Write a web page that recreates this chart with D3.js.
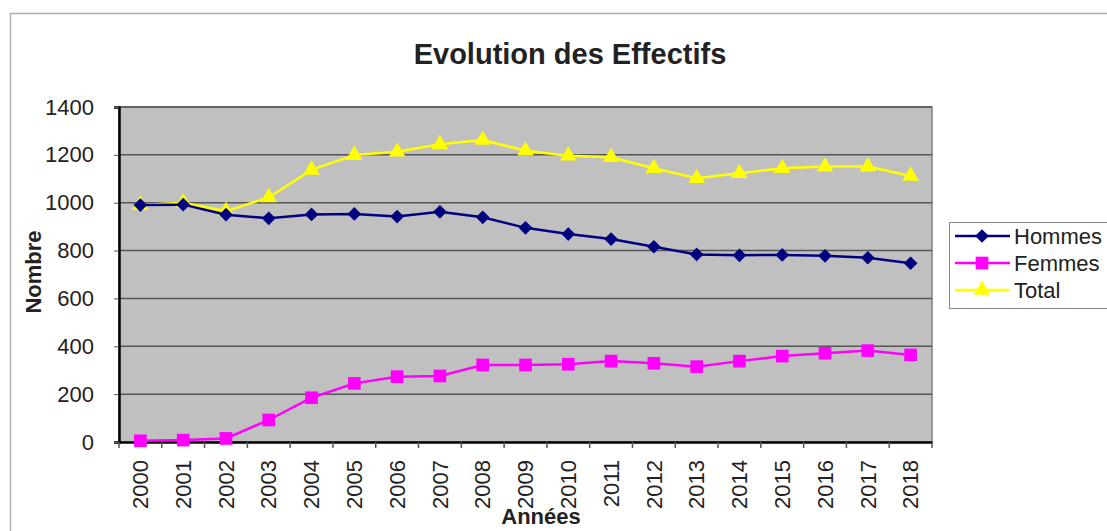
<!DOCTYPE html>
<html>
<head>
<meta charset="utf-8">
<script src="https://cdn.jsdelivr.net/npm/d3@7"></script>
<style>
  body { margin: 0; background: #fff; }
  svg { font-family: "Liberation Sans", Arial, sans-serif; }
</style>
</head>
<body>
<div id="chart"></div>
<script>
"use strict";
// years on the x axis
var years = ["2000", "2001", "2002", "2003", "2004", "2005", "2006", "2007", "2008", "2009",
  "2010", "2011", "2012", "2013", "2014", "2015", "2016", "2017", "2018"];

// values
var hommes = [990, 992, 950, 935, 951, 953, 942, 962, 939, 895, 869, 848, 816, 784, 780, 782, 778, 770, 747];
var femmes = [5, 8, 15, 92, 185, 245, 273, 276, 322, 322, 325, 338, 329, 315, 338, 359, 371, 382, 364];
var total = [990, 1000, 965, 1022, 1137, 1199, 1213, 1244, 1262, 1217, 1196, 1190, 1144, 1102, 1123, 1144, 1151, 1151, 1112];

var yTicks = [0, 200, 400, 600, 800, 1000, 1200, 1400];

var series = [
  { name: "Hommes", values: hommes, color: "#000080", marker: "diamond" },
  { name: "Femmes", values: femmes, color: "#ff00ff", marker: "square" },
  { name: "Total", values: total, color: "#ffff00", marker: "triangle" }
];

var w = 1107, h = 531;
var plot = { left: 119, top: 107, right: 932, bottom: 442 };
var textColor = "#222";

var svg = d3.select("#chart").append("svg")
  .attr("width", w)
  .attr("height", h);

// outer chart frame
svg.append("rect")
  .attr("x", 10.5).attr("y", 13.5)
  .attr("width", 1110).attr("height", 540)
  .attr("fill", "none")
  .attr("stroke", "#b0b0b0")
  .attr("stroke-width", 1.5);

var x = d3.scaleBand().domain(years).range([plot.left, plot.right]);
var y = d3.scaleLinear().domain([0, 1400]).range([plot.bottom, plot.top]);

// plot background
svg.append("rect")
  .attr("x", plot.left).attr("y", plot.top)
  .attr("width", plot.right - plot.left)
  .attr("height", plot.bottom - plot.top)
  .attr("fill", "#c0c0c0")
  .attr("stroke", "#808080")
  .attr("stroke-width", 1.5);

// gridlines
svg.append("g").selectAll("line")
  .data(yTicks.slice(1))
  .join("line")
  .attr("x1", plot.left).attr("x2", plot.right)
  .attr("y1", function(d) { return y(d); })
  .attr("y2", function(d) { return y(d); })
  .attr("stroke", "#555")
  .attr("stroke-width", 1.5);

// y axis
var yAxis = svg.append("g")
  .attr("transform", "translate(" + plot.left + ",0)")
  .call(d3.axisLeft(y).tickValues(yTicks).tickFormat(d3.format("d")).tickSize(5).tickPadding(20));
yAxis.select(".domain").attr("stroke", "#000").attr("stroke-width", 2.5);
yAxis.selectAll(".tick line").attr("stroke", "#555");
yAxis.selectAll("text")
  .attr("font-size", 22)
  .attr("fill", textColor)
  .attr("font-family", "Liberation Sans, Arial, sans-serif");

// x axis: ticks at the band edges
var xAxis = svg.append("g")
  .attr("transform", "translate(0," + plot.bottom + ")")
  .call(d3.axisBottom(x).tickSize(0).tickPadding(0));
xAxis.select(".domain").attr("stroke", "#000").attr("stroke-width", 2.5);
xAxis.selectAll("text")
  .attr("font-size", 22)
  .attr("fill", textColor)
  .attr("font-family", "Liberation Sans, Arial, sans-serif")
  .attr("text-anchor", "end")
  .attr("transform", "rotate(-90)")
  .attr("x", -18)
  .attr("y", 0)
  .attr("dy", "0.35em");
svg.append("g").selectAll("line")
  .data(years.concat(["end"]))
  .join("line")
  .attr("x1", function(d, i) { return plot.left + i * x.step(); })
  .attr("x2", function(d, i) { return plot.left + i * x.step(); })
  .attr("y1", plot.bottom)
  .attr("y2", plot.bottom + 6)
  .attr("stroke", "#555")
  .attr("stroke-width", 1.5);

// lines
var line = d3.line()
  .x(function(d, i) { return x(years[i]) + x.bandwidth() / 2; })
  .y(function(d) { return y(d); });

function markerPath(type) {
  if (type === "diamond") return d3.symbol().type(d3.symbolDiamond2).size(120)();
  if (type === "square") return d3.symbol().type(d3.symbolSquare).size(160)();
  return d3.symbol().type(d3.symbolTriangle).size(120)();
}

// draw in reverse so Hommes sits on top
series.slice().reverse().forEach(function(s) {
  svg.append("path")
    .datum(s.values)
    .attr("d", line)
    .attr("fill", "none")
    .attr("stroke", s.color)
    .attr("stroke-width", 2.5);
  svg.append("g").selectAll("path")
    .data(s.values)
    .join("path")
    .attr("d", markerPath(s.marker))
    .attr("transform", function(d, i) {
      return "translate(" + (x(years[i]) + x.bandwidth() / 2) + "," + y(d) + ")";
    })
    .attr("fill", s.color);
});

// title
svg.append("text")
  .attr("x", 570).attr("y", 64)
  .attr("text-anchor", "middle")
  .attr("font-size", 29)
  .attr("font-weight", "bold")
  .attr("fill", textColor)
  .text("Evolution des Effectifs");

// axis titles
svg.append("text")
  .attr("transform", "translate(41,272) rotate(-90)")
  .attr("text-anchor", "middle")
  .attr("font-size", 22)
  .attr("font-weight", "bold")
  .attr("fill", textColor)
  .text("Nombre");

svg.append("text")
  .attr("x", 541).attr("y", 524)
  .attr("text-anchor", "middle")
  .attr("font-size", 22)
  .attr("font-weight", "bold")
  .attr("fill", textColor)
  .text("Années");

// legend
var legend = svg.append("g");
legend.append("rect")
  .attr("x", 949.5).attr("y", 222.5)
  .attr("width", 170).attr("height", 86)
  .attr("fill", "#fff")
  .attr("stroke", "#888");

var entries = legend.selectAll("g.entry")
  .data(series)
  .join("g")
  .attr("class", "entry")
  .attr("transform", function(d, i) { return "translate(0," + (236 + i * 27) + ")"; });
entries.append("line")
  .attr("x1", 955).attr("x2", 1010)
  .attr("y1", 0).attr("y2", 0)
  .attr("stroke", function(d) { return d.color; })
  .attr("stroke-width", 2.5);
entries.append("path")
  .attr("d", function(d) { return markerPath(d.marker); })
  .attr("transform", "translate(982,0)")
  .attr("fill", function(d) { return d.color; });
entries.append("text")
  .attr("x", 1014).attr("y", 0)
  .attr("dy", "0.35em")
  .attr("font-size", 22)
  .attr("fill", textColor)
  .text(function(d) { return d.name; });
</script>
</body>
</html>
